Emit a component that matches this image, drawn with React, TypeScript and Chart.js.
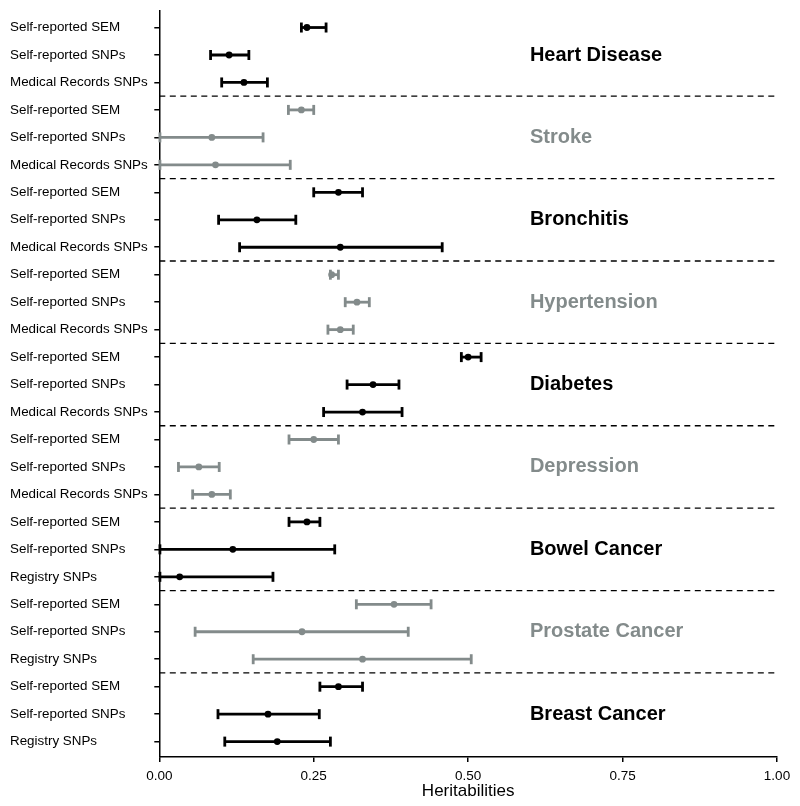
import React, { useEffect, useRef } from "react";
import { Chart, registerables } from "chart.js";

Chart.register(...registerables);

const rowLabels = [
  "Self-reported SEM", "Self-reported SNPs", "Medical Records SNPs",
  "Self-reported SEM", "Self-reported SNPs", "Medical Records SNPs",
  "Self-reported SEM", "Self-reported SNPs", "Medical Records SNPs",
  "Self-reported SEM", "Self-reported SNPs", "Medical Records SNPs",
  "Self-reported SEM", "Self-reported SNPs", "Medical Records SNPs",
  "Self-reported SEM", "Self-reported SNPs", "Medical Records SNPs",
  "Self-reported SEM", "Self-reported SNPs", "Registry SNPs",
  "Self-reported SEM", "Self-reported SNPs", "Registry SNPs",
  "Self-reported SEM", "Self-reported SNPs", "Registry SNPs",
];

const groupNames = [
  "Heart Disease", "Stroke", "Bronchitis", "Hypertension", "Diabetes",
  "Depression", "Bowel Cancer", "Prostate Cancer", "Breast Cancer",
];

const estimates = [
  0.239, 0.113, 0.137,
  0.230, 0.085, 0.091,
  0.290, 0.158, 0.293,
  0.279, 0.320, 0.293,
  0.500, 0.346, 0.329,
  0.250, 0.064, 0.085,
  0.239, 0.119, 0.033,
  0.380, 0.231, 0.329,
  0.290, 0.176, 0.191,
];

const lower = [
  0.230, 0.083, 0.101,
  0.209, 0.001, 0.001,
  0.250, 0.096, 0.130,
  0.277, 0.301, 0.273,
  0.489, 0.304, 0.266,
  0.210, 0.031, 0.054,
  0.210, 0.001, 0.001,
  0.319, 0.058, 0.152,
  0.260, 0.095, 0.106,
];

const upper = [
  0.270, 0.145, 0.175,
  0.250, 0.168, 0.212,
  0.329, 0.221, 0.458,
  0.290, 0.340, 0.314,
  0.521, 0.388, 0.393,
  0.290, 0.097, 0.115,
  0.260, 0.284, 0.184,
  0.440, 0.403, 0.505,
  0.329, 0.259, 0.277,
];

const xTicks = [0, 0.25, 0.5, 0.75, 1];

const BLACK = "#000000";
const GRAY = "#838b8b";

const colorFor = (row: number) => (Math.floor(row / 3) % 2 === 0 ? BLACK : GRAY);

export default function App() {
  const ref = useRef<HTMLCanvasElement>(null);

  useEffect(() => {
    if (!ref.current) return;

    const datasets: any[] = [];

    // separators
    for (let g = 1; g < groupNames.length; g++) {
      datasets.push({
        type: "line",
        data: [{ x: 0, y: 3 * g - 0.5 }, { x: 1, y: 3 * g - 0.5 }],
        borderColor: BLACK,
        borderWidth: 1.3,
        borderDash: [6, 4.5],
        pointRadius: 0,
        clip: false,
      });
    }

    // whiskers with caps
    rowLabels.forEach((_, i) => {
      const c = colorFor(i);
      datasets.push({
        type: "line",
        data: [{ x: lower[i], y: i }, { x: upper[i], y: i }],
        borderColor: c,
        borderWidth: 2.8,
        pointStyle: "line",
        rotation: 90,
        pointRadius: 5,
        pointBorderWidth: 2.8,
        pointBorderColor: c,
        pointBackgroundColor: c,
        clip: false,
      });
    });

    // point estimates
    datasets.push({
      type: "scatter",
      data: estimates.map((v, i) => ({ x: v, y: i })),
      pointRadius: 3.4,
      pointBackgroundColor: estimates.map((_, i) => colorFor(i)),
      pointBorderColor: estimates.map((_, i) => colorFor(i)),
      pointBorderWidth: 0,
      clip: false,
    });

    const groupLabelPlugin = {
      id: "groupLabels",
      afterDatasetsDraw(chart: any) {
        const ctx = chart.ctx;
        const xs = chart.scales.x;
        const ys = chart.scales.y;
        ctx.save();
        ctx.font = "bold 20px 'Liberation Sans', Arial, sans-serif";
        ctx.textAlign = "left";
        ctx.textBaseline = "middle";
        groupNames.forEach((name, g) => {
          ctx.fillStyle = g % 2 === 0 ? BLACK : GRAY;
          ctx.fillText(name, xs.getPixelForValue(0.6), ys.getPixelForValue(3 * g + 1));
        });
        ctx.restore();
      },
    };

    const chart = new Chart(ref.current, {
      type: "scatter",
      data: { datasets },
      options: {
        animation: false,
        responsive: false,
        events: [],
        layout: { padding: { left: 10, right: 23, top: 10, bottom: 0 } },
        plugins: { legend: { display: false }, tooltip: { enabled: false } },
        scales: {
          x: {
            type: "linear",
            min: 0,
            max: 1,
            afterBuildTicks: (s: any) => {
              s.ticks = xTicks.map((v) => ({ value: v }));
            },
            afterFit: (s: any) => {
              s.height = 49;
            },
            ticks: {
              color: BLACK,
              font: { family: "'Liberation Sans', Arial, sans-serif", size: 13.5 },
              padding: 6,
              callback: (v: any) => Number(v).toFixed(2),
            },
            grid: {
              drawOnChartArea: false,
              drawTicks: true,
              tickLength: 5,
              color: BLACK,
              lineWidth: 1.5,
            },
            border: { display: true, color: BLACK, width: 1.5 },
            title: {
              display: true,
              text: "Heritabilities",
              color: BLACK,
              font: { family: "'Liberation Sans', Arial, sans-serif", size: 17 },
              padding: { top: 0, bottom: 4 },
            },
          },
          y: {
            type: "linear",
            reverse: true,
            min: -0.6,
            max: 26.56,
            afterBuildTicks: (s: any) => {
              s.ticks = rowLabels.map((_, i) => ({ value: i }));
            },
            afterFit: (s: any) => {
              s.width = 149.3;
            },
            ticks: {
              autoSkip: false,
              crossAlign: "far",
              color: BLACK,
              font: { family: "'Liberation Sans', Arial, sans-serif", size: 13.4 },
              callback: (v: any) => rowLabels[Math.round(Number(v))] ?? "",
            },
            grid: {
              drawOnChartArea: false,
              drawTicks: true,
              tickLength: 5,
              color: BLACK,
              lineWidth: 1.5,
            },
            border: { display: true, color: BLACK, width: 1.5 },
          },
        },
      },
      plugins: [groupLabelPlugin],
    } as any);

    return () => chart.destroy();
  }, []);

  return (
    <div style={{ position: "fixed", left: 0, top: 0, width: 800, height: 806, background: "#fff" }}>
      <canvas ref={ref} width={800} height={806} style={{ display: "block" }} />
    </div>
  );
}
